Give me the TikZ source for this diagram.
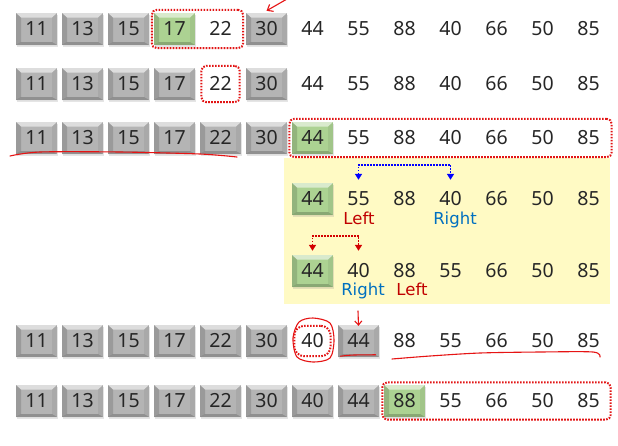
\documentclass[tikz,border=0pt]{standalone}
\usepackage{fontspec}
\setmainfont{Noto Sans}
\newfontfamily\lblfont{DejaVu Sans}
\usepackage{tikz}
\usetikzlibrary{arrows.meta, fit, shadows}
\definecolor{boxgray}{RGB}{180,180,180}
\definecolor{boxgreen}{RGB}{172,210,146}
\definecolor{lightyel}{RGB}{255,250,196}
\definecolor{leftred}{RGB}{192,0,0}
\definecolor{rightblue}{RGB}{0,112,192}
\definecolor{dotred}{RGB}{226,20,20}
\definecolor{penred}{RGB}{230,20,20}
\newcommand{\numfont}{\fontsize{19.5}{22}\selectfont}
\tikzset{
  cell/.style={font=\numfont, text=black!85, inner sep=0pt, minimum width=41pt, minimum height=32pt,
    text height=13.9pt, text depth=0pt},
  pcell/.style={cell, minimum height=16pt},
  bevel/.style={cell, fill=#1, drop shadow={shadow xshift=1.2pt, shadow yshift=-1.5pt, opacity=.2},
    path picture={
      \path (path picture bounding box.north west) coordinate (p1)
            (path picture bounding box.north east) coordinate (p2)
            (path picture bounding box.south east) coordinate (p3)
            (path picture bounding box.south west) coordinate (p4);
      \fill[white, opacity=.55] (p1) -- (p2) -- ([shift={(-5pt,-4.5pt)}]p2) -- ([shift={(5pt,-4.5pt)}]p1) -- cycle;
      \fill[black, opacity=.14] (p1) -- ([shift={(5pt,-4.5pt)}]p1) -- ([shift={(5pt,3pt)}]p4) -- (p4) -- cycle;
      \fill[black, opacity=.06] (p2) -- ([shift={(-5pt,-4.5pt)}]p2) -- ([shift={(-5pt,3pt)}]p3) -- (p3) -- cycle;
      \fill[black, opacity=.2] (p4) -- ([shift={(5pt,3pt)}]p4) -- ([shift={(-5pt,3pt)}]p3) -- (p3) -- cycle;
    }},
  gcell/.style={bevel=boxgray},
  vcell/.style={bevel=boxgreen},
  dotbox/.style={draw=dotred, line width=2pt, dash pattern=on 1.6pt off 1.4pt, rounded corners=5pt, inner sep=2pt},
  lbl/.style={font=\lblfont\fontsize{16.5}{19}\selectfont, inner sep=0pt, text height=11pt, text depth=3pt},
  swaparr/.style={draw=#1, line width=1.7pt, dash pattern=on 1.5pt off 1.5pt,
    {Triangle[length=6pt,width=7pt,fill=#1]}-{Triangle[length=6pt,width=7pt,fill=#1]}},
  hand/.style={draw=penred, line width=1.1pt, line cap=round, line join=round},
}

\begin{document}
\begin{tikzpicture}[x=1pt, y=-1pt]
\useasboundingbox[fill=white] (0,0) rectangle (618,445);
\fill[lightyel] (284,158) rectangle (610,304);

\foreach \v/\s [count=\c] in {11/gcell,13/gcell,15/gcell,17/vcell,22/pcell,30/gcell,44/pcell,55/pcell,88/pcell,40/pcell,66/pcell,50/pcell,85/pcell}
  \node[\s] (r1c\c) at ({36.5+(\c-1)*46},29) {\v};
\foreach \v/\s [count=\c] in {11/gcell,13/gcell,15/gcell,17/gcell,22/pcell,30/gcell,44/pcell,55/pcell,88/pcell,40/pcell,66/pcell,50/pcell,85/pcell}
  \node[\s] (r2c\c) at ({36.5+(\c-1)*46},84) {\v};
\foreach \v/\s [count=\c] in {11/gcell,13/gcell,15/gcell,17/gcell,22/gcell,30/gcell,44/vcell,55/pcell,88/pcell,40/pcell,66/pcell,50/pcell,85/pcell}
  \node[\s] (r3c\c) at ({36.5+(\c-1)*46},138) {\v};
\foreach \v/\s [count=\c from 7] in {44/vcell,55/pcell,88/pcell,40/pcell,66/pcell,50/pcell,85/pcell}
  \node[\s] (r4c\c) at ({36.5+(\c-1)*46},199) {\v};
\foreach \v/\s [count=\c from 7] in {44/vcell,40/pcell,88/pcell,55/pcell,66/pcell,50/pcell,85/pcell}
  \node[\s] (r5c\c) at ({36.5+(\c-1)*46},271) {\v};
\foreach \v/\s [count=\c] in {11/gcell,13/gcell,15/gcell,17/gcell,22/gcell,30/gcell,40/pcell,44/gcell,88/pcell,55/pcell,66/pcell,50/pcell,85/pcell}
  \node[\s] (r6c\c) at ({36.5+(\c-1)*46},341) {\v};
\foreach \v/\s [count=\c] in {11/gcell,13/gcell,15/gcell,17/gcell,22/gcell,30/gcell,40/gcell,44/gcell,88/vcell,55/pcell,66/pcell,50/pcell,85/pcell}
  \node[\s] (r7c\c) at ({36.5+(\c-1)*46},401) {\v};

\node[dotbox, fit=(r1c4)(r1c5), inner ysep=3pt] (sel1) {};
\node[dotbox, fit=(r2c5), inner xsep=-1.5pt, inner ysep=10pt] (sel2) {};
\node[dotbox, fit=(r3c7)(r3c13), inner xsep=2.5pt, inner ysep=3pt] (sel3) {};
\node[dotbox, fit=(r6c7), inner xsep=-2.5pt, inner ysep=7pt, rounded corners=10pt] (sel6) {};
\node[dotbox, fit=(r7c9)(r7c13), inner xsep=1.5pt, inner ysep=2.5pt] (sel7) {};

\node[lbl, text=leftred] (lft4) at (359,220.5) {Left};
\node[lbl, text=rightblue] (rgt4) at (455,220.5) {Right};
\node[lbl, text=rightblue] (rgt5) at (363,291.5) {Right};
\node[lbl, text=leftred] (lft5) at (412,291.5) {Left};

\draw[swaparr=blue] ([yshift=11pt]r4c8.north) -- ++(0,15pt) -| ([yshift=11pt]r4c10.north);
\draw[swaparr=leftred!70!red] ([yshift=4pt]r5c7.north) -- ++(0,15pt) -| ([yshift=12pt]r5c8.north);

\coordinate (pen1) at (287,-1);
\draw[hand, -{Straight Barb[length=5pt,width=8pt]}] (pen1) -- ([yshift=2pt]r1c6.north);
\draw[hand] plot[smooth] coordinates {(10,156) (40,152) (120,152) (200,154) (237,157)};
\draw[hand] plot[smooth cycle] coordinates {(313,318) (330,323) (334,340) (330,358) (313,362) (297,357) (293,338) (299,322)};
\coordinate (pen2) at (358,311);
\draw[hand, -{Straight Barb[length=4pt,width=7pt]}] (pen2) -- ([yshift=-1pt]r6c8.north);
\draw[hand] ([xshift=-18pt,yshift=1pt]r6c8.south) .. controls ([xshift=-4pt,yshift=3pt]r6c8.south) and ([xshift=6pt,yshift=2pt]r6c8.south) .. ([xshift=17pt,yshift=2.5pt]r6c8.south);
\draw[hand] plot[smooth] coordinates {(392,359) (430,356) (480,353) (540,352) (593,352) (600,357)};
\end{tikzpicture}
\end{document}
